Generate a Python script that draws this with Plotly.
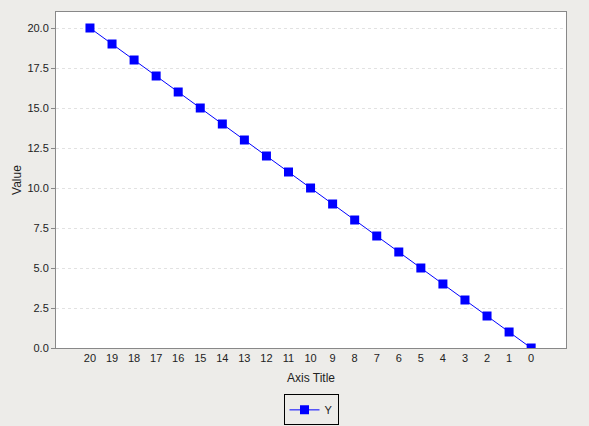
import plotly.graph_objects as go

categories = [str(v) for v in range(20, -1, -1)]
values = list(range(20, -1, -1))
y_ticks = [0, 2.5, 5, 7.5, 10, 12.5, 15, 17.5, 20]

bg = '#EDECE9'

fig = go.Figure()
fig.add_trace(go.Scatter(
    x=categories, y=values, name='Y',
    mode='lines+markers',
    line=dict(color='#0000FF', width=1),
    marker=dict(symbol='square', size=9, color='#0000FF'),
    cliponaxis=True
))

fig.update_xaxes(
    type='category',
    range=[-1.54, 21.58],
    showgrid=False,
    showline=True, linecolor='#888888', mirror=True,
    ticks='', tickfont=dict(size=11, color='#222222'),
    title=dict(text='Axis Title', font=dict(size=12, color='#222222'), standoff=10),
    zeroline=False, automargin=False
)
fig.update_yaxes(
    range=[0, 21],
    tickvals=y_ticks, tickformat='.1f',
    showgrid=True, gridcolor='#E2E2E2', griddash='3px,3px', gridwidth=1,
    showline=True, linecolor='#888888', mirror=True,
    ticks='outside', ticklen=4, tickcolor='#888888',
    tickfont=dict(size=11, color='#222222'),
    title=dict(text='Value', font=dict(size=12, color='#222222'), standoff=3),
    zeroline=False, automargin=False
)
fig.update_layout(
    width=589, height=426,
    paper_bgcolor=bg, plot_bgcolor='white',
    font=dict(family='Liberation Sans, Arial, sans-serif'),
    margin=dict(l=56, r=23, t=12, b=78, autoexpand=False),
    showlegend=True,
    legend=dict(
        orientation='h', x=0.5, xanchor='center', y=-0.138, yanchor='top',
        bordercolor='black', borderwidth=1, bgcolor=bg,
        font=dict(size=11, color='#222222'),
        itemwidth=30
    )
)

fig.write_html(
    "out.html",
    config={'displayModeBar': False},
    post_script="document.body.style.margin='0';document.body.style.background='%s';" % bg
)
